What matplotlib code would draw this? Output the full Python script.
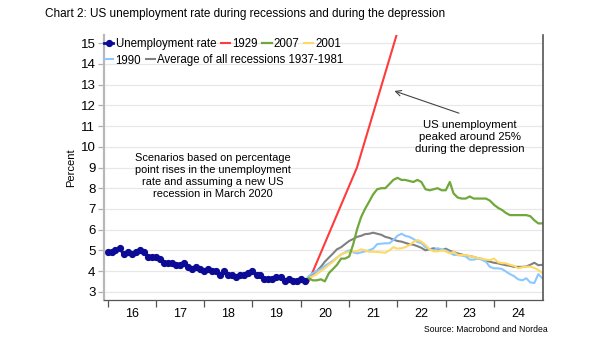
import numpy as np
import pandas as pd
import matplotlib
matplotlib.use('Agg')
import matplotlib.pyplot as plt
import matplotlib.dates as mdates
from matplotlib.lines import Line2D

plt.rcParams['font.family'] = ['Liberation Sans', 'DejaVu Sans']

# --- data -------------------------------------------------------------
ur_start = '2016-01-01'
unemployment = [4.9, 4.9, 5.0, 5.1, 4.8, 4.9, 4.8, 4.9, 5.0, 4.9, 4.7, 4.7,
                4.7, 4.6, 4.4, 4.4, 4.4, 4.3, 4.3, 4.4, 4.2, 4.1, 4.2, 4.1,
                4.0, 4.1, 4.0, 4.0, 3.8, 4.0, 3.8, 3.8, 3.7, 3.8, 3.8, 3.9,
                4.0, 3.8, 3.8, 3.6, 3.6, 3.6, 3.7, 3.7, 3.5, 3.6, 3.5, 3.5,
                3.6, 3.5]

scen_start = '2020-02-01'
rec_2007 = [3.5, 3.65, 3.55, 3.55, 3.6, 3.5, 3.9, 4.1, 4.3, 4.6,
            4.6, 4.7, 5.3, 6.0, 6.6, 7.0, 7.35, 7.7, 7.95, 8.0,
            8.0, 8.2, 8.4, 8.5, 8.4, 8.4, 8.35, 8.3, 8.4, 8.3,
            7.95, 7.9, 7.95, 8.0, 7.9, 7.9, 8.3, 7.75, 7.55, 7.5,
            7.5, 7.6, 7.5, 7.5, 7.5, 7.5, 7.4, 7.2, 7.05, 6.95,
            6.8, 6.7, 6.7, 6.7, 6.7, 6.7, 6.65, 6.45, 6.3, 6.3]
rec_2001 = [3.5, 3.65, 3.75, 3.85, 4.0, 4.13, 4.3, 4.45, 4.65, 4.8,
            4.88, 4.93, 4.95, 4.95, 5.05, 5.0, 4.93, 4.93, 4.92, 4.9,
            4.88, 5.0, 5.15, 5.08, 5.1, 5.15, 5.25, 5.4, 5.5, 5.42,
            5.26, 5.05, 4.95, 4.95, 5.0, 4.95, 4.85, 4.93, 4.78, 4.77,
            4.77, 4.72, 4.68, 4.62, 4.6, 4.55, 4.53, 4.6, 4.42, 4.38,
            4.37, 4.3, 4.25, 4.13, 4.18, 4.21, 4.21, 4.15, 4.05, 3.9]
rec_1990 = [3.5, 3.75, 3.9, 4.0, 4.1, 4.25, 4.37, 4.5, 4.65, 4.8,
            4.9, 5.0, 4.9, 4.85, 4.9, 4.95, 5.0, 5.08, 5.3, 5.32,
            5.34, 5.34, 5.5, 5.7, 5.8, 5.7, 5.65, 5.55, 5.4, 5.35,
            5.15, 5.05, 5.0, 5.1, 5.05, 5.0, 4.9, 4.78, 4.77, 4.75,
            4.7, 4.55, 4.55, 4.6, 4.55, 4.45, 4.2, 4.13, 4.13, 4.1,
            3.97, 3.85, 3.75, 3.6, 3.55, 3.65, 3.45, 3.42, 3.85, 3.65]
rec_avg = [3.5, 3.7, 3.85, 4.0, 4.2, 4.45, 4.65, 4.85, 5.05, 5.15,
           5.3, 5.45, 5.55, 5.65, 5.7, 5.78, 5.8, 5.85, 5.8, 5.75,
           5.65, 5.6, 5.52, 5.45, 5.42, 5.36, 5.3, 5.27, 5.2, 5.12,
           5.0, 5.05, 5.1, 5.05, 5.0, 5.08, 4.98, 4.92, 4.85, 4.8,
           4.75, 4.72, 4.68, 4.62, 4.58, 4.5, 4.45, 4.4, 4.37, 4.32,
           4.28, 4.25, 4.2, 4.2, 4.2, 4.22, 4.3, 4.4, 4.28, 4.3]
# 1929 scenario: annual point rises, drawn between anchors
dep_dates = ['2020-02-01', '2020-03-01', '2021-03-01', '2022-03-01']
dep_1929 = [3.5, 3.5, 9.0, 16.8]

years = list(range(2016, 2025))
year_labels = [str(y)[2:] for y in years]

# --- figure -----------------------------------------------------------
ur_dates = pd.date_range(ur_start, periods=len(unemployment), freq='MS')
sc_dates = pd.date_range(scen_start, periods=len(rec_2007), freq='MS')

fig = plt.figure(figsize=(6.05, 3.41), dpi=100)
ax = fig.add_axes([103.7 / 605, 1 - 300 / 341, (542.8 - 103.7) / 605, (300 - 35) / 341])

ax.plot(pd.to_datetime(dep_dates), dep_1929, color='#ff3b3b', lw=1.5, label='1929')
ax.plot(sc_dates, rec_avg, color='#808080', lw=1.5, label='Average of all recessions 1937-1981')
ax.plot(sc_dates, rec_1990, color='#8cc8ff', lw=1.5, label='1990')
ax.plot(sc_dates, rec_2001, color='#ffd966', lw=1.5, label='2001')
ax.plot(sc_dates, rec_2007, color='#70a83b', lw=1.6, label='2007')
ax.plot(ur_dates, unemployment, color='#0b0b96', lw=2, marker='o', ms=4.2,
        label='Unemployment rate')

ax.set_ylim(2.6, 15.4)
ax.set_xlim(pd.Timestamp('2015-12-03'), pd.Timestamp('2025-01-04'))
ax.set_yticks(range(3, 16))
ax.yaxis.grid(True, color='#e8e8e8', lw=0.9)
ax.set_axisbelow(True)

ax.set_xticks([pd.Timestamp(f'{y}-01-01') for y in years])
ax.set_xticklabels([])
ax.set_xticks([pd.Timestamp(f'{y}-07-01') for y in years], minor=True)
ax.set_xticklabels(year_labels, minor=True)
ax.tick_params(axis='x', which='major', length=5, color='#555555', width=0.9)
ax.tick_params(axis='x', which='minor', length=0, pad=6, labelsize=9)
ax.tick_params(axis='y', length=4, color='#b0b0b0', width=0.9, pad=2, labelsize=9.5)

ax.spines['top'].set_visible(False)
ax.spines['left'].set_color('#b8b8b8')
ax.spines['left'].set_linewidth(1.6)
ax.spines['bottom'].set_color('#555555')
ax.spines['bottom'].set_linewidth(0.9)
ax.spines['right'].set_color('#555555')
ax.spines['right'].set_linewidth(1.2)

ax.set_ylabel('Percent', fontsize=8, labelpad=3)

# legend in two rows
h = {l.get_label(): l for l in ax.get_lines()}
row1 = ['Unemployment rate', '1929', '2007', '2001']
row2 = ['1990', 'Average of all recessions 1937-1981']
leg_kw = dict(frameon=False, fontsize=8.3, handlelength=0.8, handletextpad=0.2,
              columnspacing=0.4, borderpad=0, borderaxespad=0, loc='center left')
leg1 = fig.legend([h[k] for k in row1], row1, ncol=4,
                  bbox_to_anchor=(104 / 605, 1 - 44 / 341), **leg_kw)
leg2 = fig.legend([h[k] for k in row2], row2, ncol=2,
                  bbox_to_anchor=(104 / 605, 1 - 60.5 / 341), **leg_kw)

ax.text(0.248, 0.468, 'Scenarios based on percentage\npoint rises in the unemployment\n'
        'rate and assuming a new US\nrecession in March 2020',
        transform=ax.transAxes, ha='center', va='center', fontsize=7.9, linespacing=1.25)
ax.text(0.834, 0.615, 'US unemployment\npeaked around 25%\nduring the depression',
        transform=ax.transAxes, ha='center', va='center', fontsize=8.2, linespacing=1.2)
ax.annotate('', xy=(pd.Timestamp('2021-11-19'), 12.74), xytext=(pd.Timestamp('2023-05-01'), 11.58),
            arrowprops=dict(arrowstyle='->', color='#444444', lw=0.8))

fig.text(45 / 605, 1 - 14 / 341,
         'Chart 2: US unemployment rate during recessions and during the depression',
         fontsize=8.5, va='center', ha='left')
fig.text(548 / 605, 1 - 329 / 341, 'Source: Macrobond and Nordea',
         fontsize=6.2, va='center', ha='right')

fig.savefig('out.png', dpi=100)
